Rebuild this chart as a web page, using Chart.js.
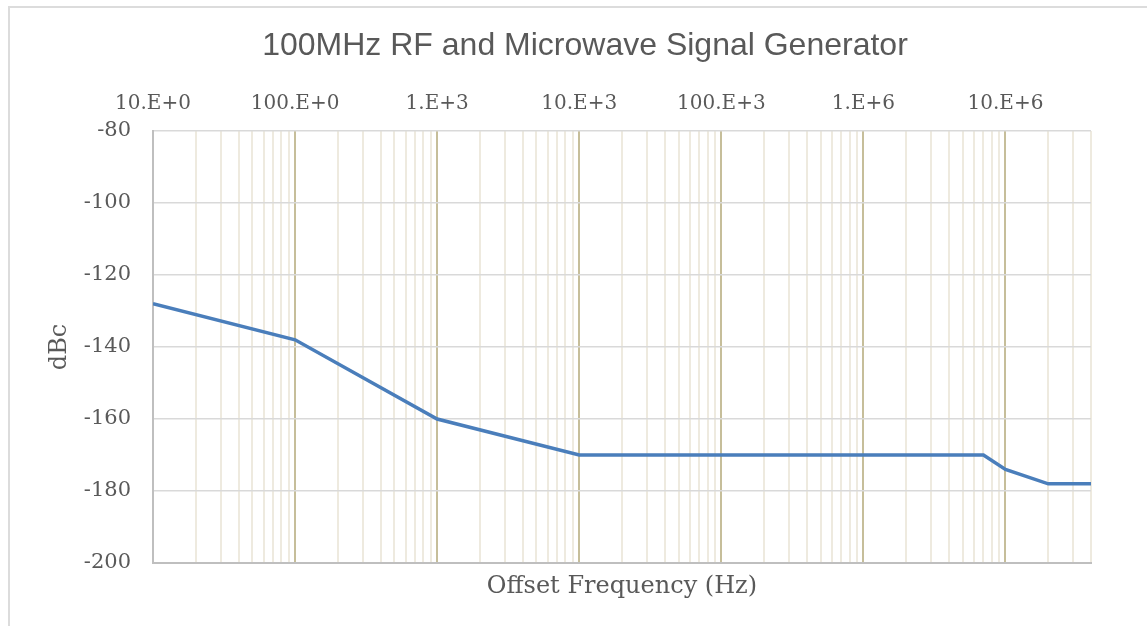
<!DOCTYPE html>
<html>
<head>
<meta charset="utf-8">
<script src="https://cdn.jsdelivr.net/npm/chart.js@4/dist/chart.umd.min.js"></script>
<style>
  body { margin: 0; background: #fff; }
  #frame { position: absolute; left: 8px; top: 6px; width: 2000px; height: 2000px;
           border-left: 2px solid #dcdcdc; border-top: 2px solid #dcdcdc; }
  #phaseNoise { position: absolute; left: 0; top: 0; }
</style>
</head>
<body>
<div id="frame"></div>
<canvas id="phaseNoise" width="1147" height="626"></canvas>
<script>
// offset frequency (Hz) and phase noise (dBc)
const offsetHz = [10, 100, 1000, 10000, 7e6, 10e6, 20e6, 40e6];
const noiseDbc = [-128, -138, -160, -170, -170, -174, -178, -178];

// axis ticks
const decades = [10, 100, 1000, 10000, 100000, 1e6, 10e6];
const decadeLabels = ['10.E+0', '100.E+0', '1.E+3', '10.E+3', '100.E+3', '1.E+6', '10.E+6'];
const minorSteps = [1, 2, 3, 4, 5, 6, 7, 8, 9];
const xMin = 10, xMax = 40e6;

const serif = 'DejaVu Serif';
const grey = '#595959';

const gridTicks = [];
decades.forEach(d => minorSteps.forEach(m => {
  if (d * m <= xMax) gridTicks.push({ value: d * m });
}));

const titlePlugin = {
  id: 'chartTitle',
  afterDraw(chart) {
    const ctx = chart.ctx;
    ctx.save();
    ctx.font = '32px "Liberation Sans"';
    ctx.fillStyle = grey;
    ctx.textAlign = 'center';
    ctx.textBaseline = 'middle';
    ctx.fillText('100MHz RF and Microwave Signal Generator', 585, 46);
    ctx.restore();
  }
};

new Chart(document.getElementById('phaseNoise'), {
  type: 'line',
  data: {
    datasets: [{
      data: offsetHz.map((f, i) => ({ x: f, y: noiseDbc[i] })),
      borderColor: '#4a7ebb',
      borderWidth: 3.5,
      pointRadius: 0,
      tension: 0,
      fill: false
    }]
  },
  options: {
    responsive: false,
    animation: false,
    layout: { padding: { left: 0, right: 56, top: 0, bottom: 0 } },
    plugins: { legend: { display: false }, title: { display: false }, tooltip: { enabled: false } },
    scales: {
      x: {
        type: 'logarithmic',
        position: 'bottom',
        min: xMin,
        max: xMax,
        afterBuildTicks: s => { s.ticks = gridTicks.map(t => ({ value: t.value })); },
        afterFit: s => { s.height = 63; },
        ticks: { display: false, autoSkip: false },
        grid: {
          drawTicks: false,
          color: c => decades.includes(c.tick.value) ? '#c6be9a' : '#eeeadf',
          lineWidth: 2
        },
        border: { color: '#bfbfbf', width: 2 },
        title: {
          display: true,
          text: 'Offset Frequency (Hz)',
          color: grey,
          font: { family: serif, size: 24 },
          padding: { top: 0, bottom: 25 }
        }
      },
      x2: {
        type: 'logarithmic',
        position: 'top',
        min: xMin,
        max: xMax,
        afterBuildTicks: s => { s.ticks = decades.map(v => ({ value: v })); },
        afterFit: s => { s.height = 131; },
        ticks: {
          autoSkip: false,
          maxRotation: 0,
          padding: 15,
          color: grey,
          font: { family: serif, size: 20 },
          callback: v => decadeLabels[decades.indexOf(v)]
        },
        grid: { display: false, drawTicks: false },
        border: { display: false }
      },
      y: {
        min: -200,
        max: -80,
        afterFit: s => { s.width = 153; },
        ticks: {
          stepSize: 20,
          padding: 22,
          color: grey,
          font: { family: serif, size: 21 }
        },
        grid: { drawTicks: false, color: '#d9d9d9', lineWidth: 1.5 },
        border: { color: '#bfbfbf', width: 2 },
        title: {
          display: true,
          text: 'dBc',
          color: grey,
          font: { family: serif, size: 24 },
          padding: { top: 45, bottom: 0 }
        }
      }
    }
  },
  plugins: [titlePlugin]
});
</script>
</body>
</html>
